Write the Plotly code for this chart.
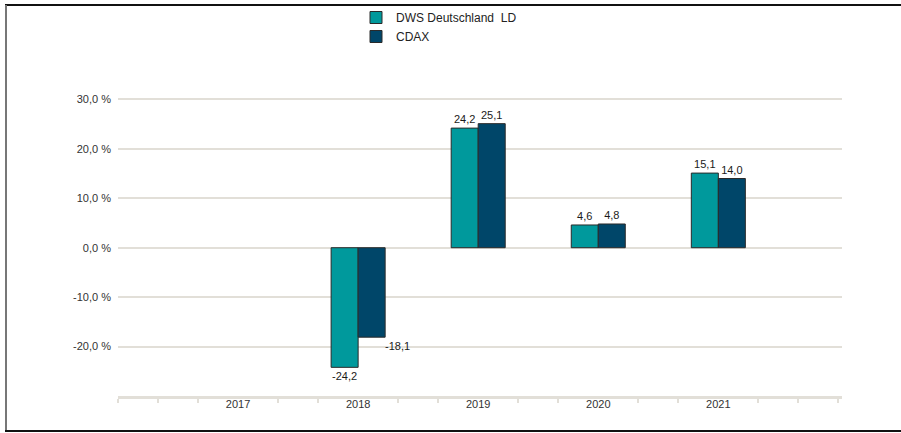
import plotly.graph_objects as go

years = ["2017", "2018", "2019", "2020", "2021"]
series_names = ["DWS Deutschland\u00a0 LD", "CDAX"]
dws = [None, -24.2, 24.2, 4.6, 15.1]
cdax = [None, -18.1, 25.1, 4.8, 14.0]
y_ticks = [-20, -10, 0, 10, 20, 30, 40]
y_ticklabels = ["-20,0 %", "-10,0 %", "0,0 %", "10,0 %", "20,0 %", "30,0 %", ""]

W, H = 901, 433
L, R, T, B = 118, 59, 50, 37
PW, PH = W - L - R, H - T - B

def px_x(p):
    return (p - L) / PW

def px_y(p):
    return (H - B - p) / PH

xs = list(range(len(years)))
teal = "#00999c"
navy = "#004669"
font = "Liberation Sans, Arial, sans-serif"

def fmt(v):
    return "" if v is None else f"{v:.1f}".replace(".", ",")

fig = go.Figure()
fig.add_trace(go.Bar(
    x=xs, y=dws, name=series_names[0],
    marker=dict(color=teal, line=dict(color="#2a2a2a", width=1)),
    text=[fmt(v) for v in dws], textposition="outside",
    textfont=dict(family=font, size=11, color="#1a1a1a"),
    cliponaxis=False,
))
cdax_text = [fmt(v) if (v is None or v >= 0) else "" for v in cdax]
fig.add_trace(go.Bar(
    x=xs, y=cdax, name=series_names[1],
    marker=dict(color=navy, line=dict(color="#2a2a2a", width=1)),
    text=cdax_text, textposition="outside",
    textfont=dict(family=font, size=11, color="#1a1a1a"),
    cliponaxis=False,
))

bargap = 0.55
half = (1 - bargap) / 2
for i, v in enumerate(cdax):
    if v is not None and v < 0:
        fig.add_annotation(x=xs[i] + half, y=v, text=fmt(v), showarrow=False,
                           xanchor="left", yanchor="top", yshift=-1, xshift=-2,
                           font=dict(family=font, size=11, color="#1a1a1a"))

minor_vals = [n / 3 for n in range(-3, 16) if n % 3 != 0 or n in (-3, 15)]

fig.update_layout(
    width=W, height=H,
    margin=dict(l=L, r=R, t=T, b=B, autoexpand=False),
    paper_bgcolor="white", plot_bgcolor="white",
    barmode="group", bargap=bargap, bargroupgap=0,
    separators=",.",
    font=dict(family=font, size=11, color="#333"),
    legend=dict(x=px_x(356), y=px_y(3), xanchor="left", yanchor="top",
                orientation="v", font=dict(family=font, size=12, color="#222"),
                bgcolor="rgba(0,0,0,0)", tracegroupgap=2),
    xaxis=dict(
        range=[-1, 5.03], tickvals=xs, ticktext=years, ticks="",
        showgrid=False, zeroline=False,
        showline=True, linecolor="#e2dfd8", linewidth=3,
        tickfont=dict(family=font, size=11, color="#333"),
        minor=dict(tickvals=minor_vals, ticks="outside", ticklen=4,
                   tickwidth=2, tickcolor="#e2dfd8", showgrid=False),
        ticklabelstandoff=-4,
    ),
    yaxis=dict(
        range=[-30, 40], tickvals=y_ticks, ticktext=y_ticklabels,
        showgrid=True, gridcolor="#e2dfd8", gridwidth=1.5,
        zeroline=False, showline=False, ticks="",
        tickfont=dict(family=font, size=11, color="#333"),
        ticklabelstandoff=6,
    ),
)

# outer frame (top, left, bottom)
fig.add_shape(type="line", xref="paper", yref="paper", x0=px_x(5), x1=px_x(901),
              y0=px_y(5), y1=px_y(5), line=dict(color="#111", width=2))
fig.add_shape(type="line", xref="paper", yref="paper", x0=px_x(6), x1=px_x(6),
              y0=px_y(5), y1=px_y(431), line=dict(color="#777", width=2))
fig.add_shape(type="line", xref="paper", yref="paper", x0=px_x(5), x1=px_x(901),
              y0=px_y(431), y1=px_y(431), line=dict(color="#111", width=2))

fig.write_html("out.html", config={"displayModeBar": False},
               post_script="document.body.style.margin='0';document.body.style.overflow='hidden';")
